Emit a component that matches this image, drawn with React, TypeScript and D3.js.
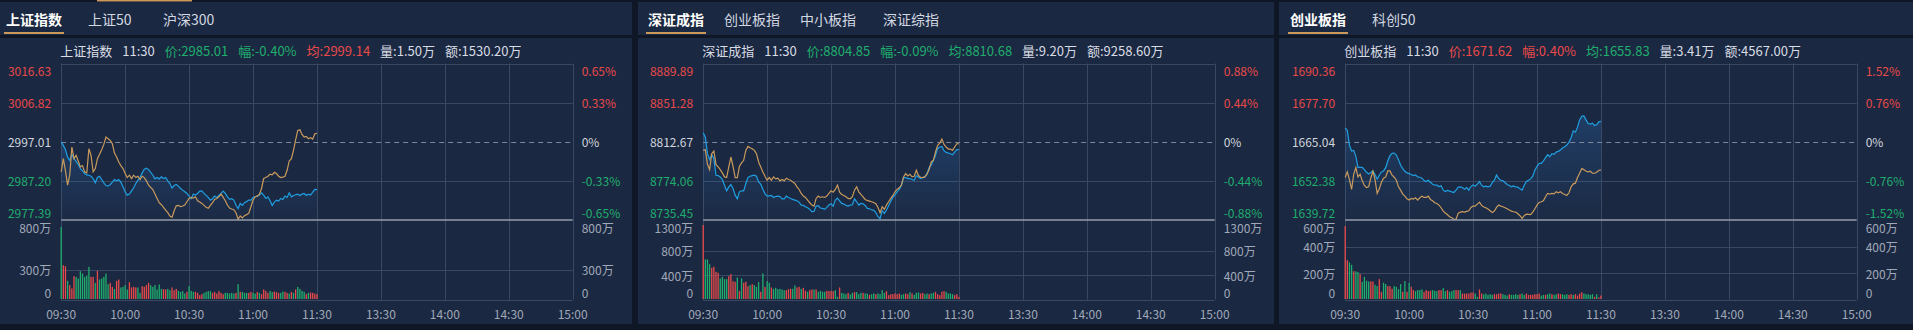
import React, { useEffect } from 'react';
import * as d3 from 'd3';

// ---------- shared axis data ----------
const timeLabels = ['09:30', '10:00', '10:30', '11:00', '11:30', '13:30', '14:00', '14:30', '15:00'];
const timeMinutes = [0, 30, 60, 90, 120, 150, 180, 210, 240];
const quoteTime = '11:30';

// ---------- 上证指数 ----------
const shTabs = ['上证指数', '上证50', '沪深300'];
const shPriceTicks = [3016.63, 3006.82, 2997.01, 2987.2, 2977.39];
const shPctTicks = ['0.65%', '0.33%', '0%', '-0.33%', '-0.65%'];
const shVolTicks = [800, 300, 0];
const shQuote = ['2985.01', '-0.40%', '2999.14', '1.50万', '1530.20万'];
const shPrice = [
  2996.93, 2996.1, 2995.0, 2993.19, 2992.36, 2993.85, 2992.77, 2992.1, 2991.36, 2990.28,
  2989.7, 2989.03, 2988.7, 2988.62, 2988.37, 2987.79, 2986.71, 2988.04, 2988.37, 2987.54,
  2986.71, 2986.04, 2985.88, 2986.29, 2986.87, 2987.54, 2987.2, 2987.54, 2986.87, 2985.71,
  2984.46, 2983.63, 2983.88, 2984.71, 2985.46, 2986.54, 2987.37, 2988.04, 2989.2, 2990.11,
  2990.36, 2990.03, 2989.36, 2988.62, 2987.7, 2988.04, 2987.7, 2988.2, 2987.79, 2988.04,
  2987.2, 2986.54, 2985.38, 2986.04, 2986.29, 2985.88, 2985.29, 2984.88, 2984.46, 2984.05,
  2983.38, 2982.72, 2983.88, 2983.63, 2984.05, 2984.63, 2984.71, 2984.05, 2983.55, 2983.05,
  2982.38, 2982.72, 2983.38, 2983.05, 2983.55, 2984.05, 2984.63, 2984.05, 2983.21, 2982.55,
  2982.72, 2982.38, 2981.14, 2980.22, 2981.55, 2981.05, 2981.72, 2982.05, 2982.38, 2982.38,
  2983.05, 2983.21, 2983.38, 2983.63, 2984.21, 2983.63, 2982.8, 2983.21, 2982.22, 2981.05,
  2981.88, 2982.38, 2982.13, 2982.8, 2982.55, 2983.38, 2983.05, 2984.21, 2983.21, 2983.55,
  2983.71, 2983.88, 2983.55, 2983.88, 2984.05, 2983.55, 2983.88, 2983.63, 2984.38, 2985.05,
  2985.01,
];
const shAvg = [
  2989.45, 2992.77, 2989.7, 2986.12, 2988.62, 2995.68, 2992.77, 2993.6, 2992.19, 2990.69,
  2991.03, 2989.45, 2989.2, 2995.26, 2993.6, 2989.45, 2990.28, 2992.77, 2993.85, 2995.02,
  2996.35, 2998.17, 2997.76, 2997.34, 2996.51, 2994.18, 2993.19, 2991.94, 2991.03, 2990.28,
  2989.03, 2988.03, 2988.62, 2987.79, 2988.62, 2988.03, 2988.37, 2987.54, 2988.37, 2988.03,
  2987.2, 2986.12, 2985.54, 2985.04, 2983.88, 2982.8, 2981.72, 2981.22, 2980.56, 2979.89,
  2979.23, 2978.4, 2978.06, 2979.72, 2980.97, 2981.05, 2980.72, 2980.89, 2981.14, 2981.97,
  2982.8, 2983.05, 2982.88, 2983.21, 2982.22, 2981.88, 2981.55, 2981.05, 2980.56, 2980.31,
  2981.05, 2981.72, 2982.55, 2982.8, 2983.21, 2983.88, 2983.05, 2982.22, 2981.14, 2980.39,
  2980.14, 2979.97, 2979.23, 2977.57, 2978.4, 2977.9, 2978.48, 2978.73, 2979.06, 2980.72,
  2982.38, 2983.21, 2983.38, 2983.88, 2985.29, 2987.79, 2988.03, 2988.37, 2988.87, 2988.7,
  2989.36, 2989.03, 2988.37, 2988.03, 2988.12, 2988.37, 2989.86, 2992.19, 2992.77, 2994.85,
  2997.51, 2999.84, 3000.0, 2998.84, 2998.17, 2998.34, 2997.76, 2998.01, 2997.67, 2999.0,
  2999.14,
];
const shVol = [
  730, 345, 335, 188, 144, 111, 235, 228, 211, 285,
  261, 228, 241, 328, 228, 228, 168, 288, 201, 211,
  228, 261, 154, 168, 127, 107, 188, 201, 121, 127,
  144, 101, 174, 121, 127, 121, 121, 67, 134, 127,
  144, 168, 144, 127, 144, 101, 151, 107, 104, 101,
  107, 94, 121, 94, 107, 87, 77, 84, 60, 77,
  134, 87, 77, 77, 67, 44, 54, 67, 77, 84,
  84, 67, 77, 60, 84, 67, 54, 67, 67, 60,
  67, 60, 67, 154, 77, 77, 67, 67, 67, 77,
  67, 60, 77, 67, 54, 101, 87, 67, 87, 74,
  80, 74, 67, 67, 80, 77, 67, 60, 77, 67,
  101, 127, 107, 87, 77, 54, 67, 70, 67, 60, 54,
];
const shVolDir = ('GRRGRRRGGG' + 'GGGGRRGRGG' + 'GGGRRGRRGG' + 'GGRRRRGGRR' + 'RRGGGGGGRR' + 'GGRRRGGGGR' +
  'GGGRRRRGGG' + 'GRRRRRRGGG' + 'GGRGRGGGRR' + 'GGRGRRRRGG' + 'RRRGGRRGRG' + 'RGGGGRGRRRR').split('');

// ---------- 深证成指 ----------
const szTabs = ['深证成指', '创业板指', '中小板指', '深证综指'];
const szPriceTicks = [8889.89, 8851.28, 8812.67, 8774.06, 8735.45];
const szPctTicks = ['0.88%', '0.44%', '0%', '-0.44%', '-0.88%'];
const szVolTicks = [1300, 800, 400, 0];
const szQuote = ['8804.85', '-0.09%', '8810.68', '9.20万', '9258.60万'];
const szPrice = [
  8821.5, 8817.25, 8800.89, 8795.0, 8800.24, 8795.98, 8779.62, 8779.3, 8777.99, 8775.37,
  8769.81, 8764.24, 8768.17, 8770.46, 8766.54, 8759.99, 8756.39, 8763.26, 8764.24, 8764.24,
  8771.44, 8777.33, 8778.64, 8779.3, 8779.62, 8778.64, 8773.08, 8770.79, 8765.88, 8761.3,
  8759.01, 8759.34, 8759.66, 8757.7, 8758.68, 8759.01, 8758.68, 8756.39, 8756.39, 8759.01,
  8757.7, 8756.72, 8755.74, 8755.08, 8754.43, 8753.12, 8750.18, 8749.85, 8748.54, 8747.56,
  8745.92, 8743.63, 8743.96, 8749.19, 8749.52, 8747.23, 8746.9, 8745.92, 8747.88, 8750.18,
  8751.48, 8749.19, 8755.08, 8757.05, 8754.43, 8751.81, 8751.16, 8749.85, 8749.19, 8750.18,
  8750.5, 8756.39, 8753.45, 8750.18, 8751.81, 8751.48, 8749.85, 8746.9, 8746.58, 8745.59,
  8744.94, 8742.65, 8738.72, 8736.76, 8744.61, 8742.0, 8745.27, 8749.52, 8753.77, 8757.7,
  8760.32, 8763.26, 8765.55, 8769.81, 8777.33, 8777.33, 8776.35, 8776.35, 8775.37, 8774.72,
  8779.3, 8777.66, 8776.35, 8777.33, 8777.99, 8781.26, 8787.15, 8789.77, 8794.35, 8799.26,
  8806.13, 8807.44, 8808.09, 8803.84, 8802.2, 8801.55, 8800.89, 8799.91, 8802.53, 8804.82,
  8804.85,
];
const szAvg = [
  8804.16, 8804.82, 8790.42, 8785.19, 8800.89, 8803.51, 8790.09, 8787.8, 8785.19, 8781.91,
  8777.99, 8777.33, 8787.8, 8797.62, 8788.46, 8777.33, 8777.33, 8788.46, 8791.73, 8794.35,
  8804.16, 8808.09, 8806.78, 8805.8, 8804.16, 8800.89, 8792.71, 8787.8, 8782.89, 8778.64,
  8774.72, 8777.33, 8774.72, 8777.99, 8776.02, 8776.68, 8774.06, 8775.37, 8774.06, 8776.68,
  8775.37, 8774.72, 8773.08, 8771.44, 8768.17, 8765.55, 8761.63, 8759.01, 8757.7, 8755.08,
  8752.46, 8750.18, 8749.19, 8756.72, 8759.01, 8757.7, 8758.36, 8757.7, 8759.01, 8761.63,
  8764.24, 8762.93, 8765.55, 8769.81, 8762.93, 8760.65, 8759.66, 8758.36, 8756.72, 8756.39,
  8758.36, 8764.9, 8768.17, 8763.26, 8760.65, 8758.36, 8755.74, 8754.76, 8754.1, 8753.45,
  8752.79, 8751.48, 8747.88, 8742.65, 8748.54, 8745.92, 8750.18, 8753.45, 8756.72, 8759.66,
  8763.26, 8765.88, 8767.19, 8769.81, 8777.99, 8781.26, 8778.97, 8780.6, 8777.99, 8778.64,
  8784.53, 8779.3, 8777.66, 8777.33, 8777.99, 8780.6, 8785.19, 8792.71, 8794.35, 8802.53,
  8809.07, 8811.36, 8815.29, 8810.05, 8807.44, 8805.47, 8805.47, 8804.16, 8807.44, 8810.71,
  8810.68,
];
const szVol = [
  1218, 655, 655, 579, 519, 535, 453, 437, 344, 371,
  333, 333, 382, 415, 300, 289, 360, 137, 344, 273,
  289, 218, 235, 251, 235, 207, 284, 126, 426, 207,
  300, 273, 197, 175, 191, 169, 175, 164, 153, 153,
  169, 175, 175, 229, 197, 207, 175, 191, 142, 126,
  153, 164, 164, 164, 126, 142, 126, 126, 142, 137,
  142, 137, 153, 44, 197, 109, 98, 87, 109, 82,
  109, 120, 120, 87, 109, 109, 98, 98, 76, 87,
  98, 87, 98, 87, 153, 109, 137, 71, 87, 87,
  98, 87, 98, 76, 87, 98, 87, 120, 98, 76,
  109, 115, 98, 109, 87, 98, 87, 98, 109, 126,
  87, 71, 126, 137, 126, 98, 98, 87, 71, 87, 44,
];
const szVolDir = ('RGGGRRRRGG' + 'GGRRRRGRGR' + 'RRGRGGGRGR' + 'GGRGGGGGGR' + 'RRGGRRGRRG' + 'RRGRGGGGRR' +
  'RRGGRGGGRG' + 'GRGGGRGGRG' + 'GRGGGGRRRR' + 'RRRGGRRGRG' + 'GGRRGGRGGR' + 'RRRRGGGGRRR').split('');

// ---------- 创业板指 ----------
const cyTabs = ['创业板指', '科创50'];
const cyPriceTicks = [1690.36, 1677.7, 1665.04, 1652.38, 1639.72];
const cyPctTicks = ['1.52%', '0.76%', '0%', '-0.76%', '-1.52%'];
const cyVolTicks = [600, 400, 200, 0];
const cyQuote = ['1671.62', '0.40%', '1655.83', '3.41万', '4567.00万'];
const cyPrice = [
  1669.55, 1668.69, 1663.86, 1662.04, 1662.25, 1660.32, 1656.78, 1656.78, 1656.78, 1656.03,
  1655.17, 1654.63, 1655.06, 1655.6, 1654.42, 1652.91, 1654.2, 1655.28, 1655.6, 1656.67,
  1658.82, 1660.53, 1661.28, 1661.39, 1660.75, 1659.25, 1657.42, 1656.35, 1655.49, 1654.95,
  1654.74, 1654.42, 1654.1, 1654.31, 1653.67, 1653.56, 1653.24, 1652.49, 1652.16, 1652.59,
  1651.95, 1651.31, 1650.98, 1650.98, 1650.55, 1650.77, 1649.37, 1648.95, 1649.27, 1649.05,
  1648.84, 1648.62, 1649.37, 1650.34, 1650.45, 1650.23, 1649.7, 1650.23, 1649.37, 1650.55,
  1651.09, 1650.66, 1651.31, 1652.16, 1650.98, 1650.45, 1650.66, 1650.45, 1650.66, 1651.84,
  1652.59, 1654.31, 1653.13, 1652.59, 1652.38, 1651.84, 1651.2, 1650.88, 1650.45, 1650.77,
  1650.45, 1650.34, 1649.8, 1649.37, 1650.98, 1652.16, 1652.59, 1653.02, 1653.88, 1655.81,
  1657.1, 1658.07, 1658.07, 1658.82, 1659.89, 1660.86, 1660.21, 1661.18, 1660.96, 1661.71,
  1661.93, 1662.36, 1663.0, 1663.43, 1663.97, 1664.93, 1666.33, 1668.58, 1668.15, 1669.76,
  1672.12, 1673.3, 1673.41, 1672.12, 1670.94, 1670.73, 1671.05, 1670.3, 1670.51, 1671.48,
  1671.62,
];
const cyAvg = [
  1653.45, 1655.28, 1652.81, 1649.59, 1654.52, 1656.67, 1653.67, 1654.52, 1652.38, 1650.88,
  1650.23, 1650.45, 1653.24, 1655.49, 1652.81, 1648.3, 1649.8, 1651.95, 1653.24, 1653.67,
  1655.6, 1655.6, 1654.2, 1653.56, 1652.59, 1650.45, 1649.37, 1648.09, 1647.44, 1646.58,
  1646.16, 1646.69, 1646.48, 1646.91, 1646.16, 1646.91, 1647.44, 1647.01, 1647.01, 1647.44,
  1646.37, 1645.94, 1645.3, 1645.08, 1644.55, 1643.69, 1642.61, 1641.97, 1641.43, 1640.79,
  1640.47, 1639.93, 1639.93, 1641.86, 1642.29, 1642.4, 1642.29, 1642.51, 1642.72, 1643.79,
  1644.22, 1644.22, 1644.87, 1645.51, 1644.44, 1643.9, 1643.69, 1643.26, 1642.72, 1642.18,
  1642.61, 1643.79, 1644.55, 1644.22, 1644.01, 1643.69, 1643.37, 1642.94, 1642.61, 1642.4,
  1642.29, 1641.76, 1641.11, 1640.25, 1641.11, 1641.65, 1641.54, 1641.43, 1642.29, 1643.37,
  1644.55, 1645.4, 1645.62, 1645.94, 1647.23, 1648.3, 1648.09, 1648.3, 1648.19, 1648.84,
  1648.52, 1648.84, 1648.3, 1647.98, 1647.66, 1648.52, 1650.45, 1651.41, 1651.63, 1653.45,
  1654.85, 1656.35, 1656.03, 1655.49, 1655.28, 1655.49, 1654.85, 1654.85, 1655.17, 1655.81,
  1655.83,
];
const cyVol = [
  554, 297, 280, 262, 214, 212, 207, 192, 134, 171,
  141, 136, 136, 136, 111, 101, 154, 58, 126, 116,
  101, 101, 81, 101, 96, 78, 116, 58, 139, 58,
  126, 96, 71, 63, 71, 71, 76, 58, 71, 63,
  66, 71, 66, 63, 71, 71, 86, 63, 71, 58,
  63, 71, 71, 71, 71, 45, 45, 45, 45, 53,
  53, 45, 20, 76, 45, 40, 45, 35, 40, 35,
  40, 40, 45, 45, 40, 35, 30, 40, 35, 35,
  40, 35, 40, 45, 35, 45, 35, 35, 35, 40,
  40, 45, 30, 35, 35, 40, 45, 40, 35, 40,
  45, 40, 40, 35, 40, 35, 40, 35, 40, 30,
  45, 55, 45, 40, 40, 35, 40, 20, 40, 15, 30,
];
const cyVolDir = ('RRGGRGGRGG' + 'GGRRGGRRGG' + 'RRRGGGGRGR' + 'GRRGGGGRRR' + 'RGGGRRGGRG' + 'GGRRGRRRRR' +
  'RGGRRGGGGG' + 'RRRRGGGRGG' + 'GGRGGRRRRR' + 'RRGGRGGRGG' + 'RRGGGRRGRR' + 'RRGGGGGRGRR').split('');

// ---------- layout (positions only) ----------
const W = 1913;
const H = 330;
const CW = 511.5;
const PT = 63.5;
const PB = 220;
const VB = 299.5;
const FONT = '"Microsoft YaHei","Noto Sans CJK SC","Noto Sans",sans-serif';
const RED = '#e84a4a';
const GREEN = '#1fae6e';
const BLUE = '#1f9fe2';
const ORANGE = '#c99a5c';
const GRID = '#3a4963';
const AXIS_TXT = '#a0a9b9';
const PANEL_BG = '#1b2841';
const DARK = '#0f1626';

const layouts = [
  { px: 0, pw: 632, cx: 61.2, tabX: [6, 88, 163] },
  { px: 638, pw: 636, cx: 703.2, tabX: [648, 724, 800, 883] },
  { px: 1279, pw: 634, cx: 1345.2, tabX: [1290, 1372] },
];

const panels = [
  { tabs: shTabs, priceTicks: shPriceTicks, pctTicks: shPctTicks, volTicks: shVolTicks, quote: shQuote, price: shPrice, avg: shAvg, vol: shVol, dir: shVolDir },
  { tabs: szTabs, priceTicks: szPriceTicks, pctTicks: szPctTicks, volTicks: szVolTicks, quote: szQuote, price: szPrice, avg: szAvg, vol: szVol, dir: szVolDir },
  { tabs: cyTabs, priceTicks: cyPriceTicks, pctTicks: cyPctTicks, volTicks: cyVolTicks, quote: cyQuote, price: cyPrice, avg: cyAvg, vol: cyVol, dir: cyVolDir },
];

const cr = (n: number) => Math.round(n) + 0.5;

function PanelView({ p, l, idx }: { p: any; l: any; idx: number }) {
  const x = d3.scaleLinear().domain([0, 240]).range([l.cx, l.cx + CW]);
  const y = d3.scaleLinear().domain([p.priceTicks[4], p.priceTicks[0]]).range([PB, PT]);
  const v = d3.scaleLinear().domain([0, p.volTicks[0]]).range([VB, PB]);
  const line = d3.line<number>().x((_, i) => x(i)).y((d) => y(d));
  const area = d3.area<number>().x((_, i) => x(i)).y0(PB).y1((d) => y(d));
  const base = p.priceTicks[2];
  const priceNum = parseFloat(p.quote[0]);
  const avgNum = parseFloat(p.quote[2]);
  const cPrice = priceNum >= base ? RED : GREEN;
  const cAvg = avgNum >= base ? RED : GREEN;
  const right = l.cx + CW;
  const gid = `grad${idx}`;
  const labelY = (i: number, n: number, yy: number) => (i === 0 ? yy + 7 : i === n - 1 ? yy - 7.5 : yy);
  const priceColor = (i: number) => (i < 2 ? RED : i > 2 ? GREEN : '#cfd4dc');

  return (
    <g>
      <defs>
        <linearGradient id={gid} x1="0" y1="0" x2="0" y2="1">
          <stop offset="0%" stopColor="#2a6fb8" stopOpacity={0.3} />
          <stop offset="100%" stopColor="#2a6fb8" stopOpacity={0.03} />
        </linearGradient>
      </defs>
      <rect x={l.px} y={2} width={l.pw} height={322} fill={PANEL_BG} />
      <rect x={l.px} y={35} width={l.pw} height={3} fill={DARK} />
      {/* tabs */}
      {p.tabs.map((t: string, i: number) => (
        <text key={t} x={l.tabX[i]} y={25} fontSize={14} fontWeight={i === 0 ? 700 : 400}
          fill={i === 0 ? '#ffffff' : '#d2d8e2'} fontFamily={FONT}>{t}</text>
      ))}
      <rect x={l.tabX[0] - 2} y={32} width={p.tabs[0].length * 14 + 4} height={2} fill={ORANGE} />
      {/* info line */}
      <text x={l.cx - 1} y={49.5} fontSize={13} fontFamily={FONT} dominantBaseline="central" fill="#d8dce4">
        <tspan>{p.tabs[0]}</tspan>
        <tspan dx={10}>{quoteTime}</tspan>
        <tspan dx={10} fill={cPrice}>{'价:' + p.quote[0]}</tspan>
        <tspan dx={10} fill={cPrice}>{'幅:' + p.quote[1]}</tspan>
        <tspan dx={10} fill={cAvg}>{'均:' + p.quote[2]}</tspan>
        <tspan dx={10}>{'量:' + p.quote[3]}</tspan>
        <tspan dx={10}>{'额:' + p.quote[4]}</tspan>
      </text>
      {/* grid */}
      {timeMinutes.map((m) => (
        <line key={'v' + m} x1={cr(x(m))} x2={cr(x(m))} y1={PT} y2={VB} stroke={GRID} strokeWidth={1} />
      ))}
      <line x1={l.cx} x2={right} y1={cr(PT)} y2={cr(PT)} stroke={GRID} />
      {[1, 3].map((i) => (
        <line key={'h' + i} x1={l.cx} x2={right} y1={cr(y(p.priceTicks[i]))} y2={cr(y(p.priceTicks[i]))} stroke={GRID} />
      ))}
      {p.volTicks.slice(1, -1).map((t: number) => (
        <line key={'vh' + t} x1={l.cx} x2={right} y1={cr(v(t))} y2={cr(v(t))} stroke={GRID} />
      ))}
      <line x1={l.cx} x2={right} y1={cr(VB)} y2={cr(VB)} stroke={GRID} />
      {/* area + lines */}
      <path d={area(p.price) || ''} fill={`url(#${gid})`} />
      <line x1={l.cx} x2={right} y1={cr(y(base))} y2={cr(y(base))} stroke="#7f889a" strokeDasharray="5,4" />
      <path d={line(p.price) || ''} fill="none" stroke={BLUE} strokeWidth={1.2} />
      <path d={line(p.avg) || ''} fill="none" stroke={ORANGE} strokeWidth={1.2} />
      <line x1={l.cx} x2={right} y1={PB} y2={PB} stroke="#959dac" strokeWidth={1.3} />
      {/* volume bars */}
      {p.vol.map((d: number, i: number) => (
        <rect key={'b' + i} x={x(i) - 0.65} width={1.3} y={v(d)} height={VB - 0.5 - v(d)}
          fill={p.dir[i] === 'R' ? RED : GREEN} />
      ))}
      {/* price labels */}
      {p.priceTicks.map((t: number, i: number) => (
        <text key={'pl' + i} x={l.cx - 10} y={labelY(i, 5, y(t))} textAnchor="end" dominantBaseline="central"
          fontSize={12} fontFamily={FONT} fill={priceColor(i)}>{t.toFixed(2)}</text>
      ))}
      {p.pctTicks.map((t: string, i: number) => (
        <text key={'pr' + i} x={right + 9} y={labelY(i, 5, y(p.priceTicks[i]))} dominantBaseline="central"
          fontSize={12} fontFamily={FONT} fill={priceColor(i)}>{t}</text>
      ))}
      {/* volume labels */}
      {p.volTicks.map((t: number, i: number) => {
        const s = t === 0 ? '0' : t + '万';
        const yy = labelY(i, p.volTicks.length, v(t));
        return (
          <g key={'vl' + i}>
            <text x={l.cx - 10} y={yy} textAnchor="end" dominantBaseline="central" fontSize={12}
              fontFamily={FONT} fill={AXIS_TXT}>{s}</text>
            <text x={right + 9} y={yy} dominantBaseline="central" fontSize={12}
              fontFamily={FONT} fill={AXIS_TXT}>{s}</text>
          </g>
        );
      })}
      {/* time labels */}
      {timeLabels.map((t, i) => (
        <text key={'t' + t} x={x(timeMinutes[i])} y={313} textAnchor="middle" dominantBaseline="central"
          fontSize={12} fontFamily={FONT} fill={AXIS_TXT}>{t}</text>
      ))}
    </g>
  );
}

export default function App() {
  useEffect(() => {
    document.body.style.margin = '0';
    document.body.style.background = DARK;
  }, []);
  return (
    <div style={{ position: 'fixed', left: 0, top: 0, width: W, height: H }}>
      <svg width={W} height={H} style={{ display: 'block' }}>
        <rect x={0} y={0} width={W} height={H} fill={DARK} />
        {panels.map((p, i) => (
          <PanelView key={i} p={p} l={layouts[i]} idx={i} />
        ))}
        <rect x={97} y={0} width={95} height={1.5} fill={ORANGE} />
      </svg>
    </div>
  );
}
